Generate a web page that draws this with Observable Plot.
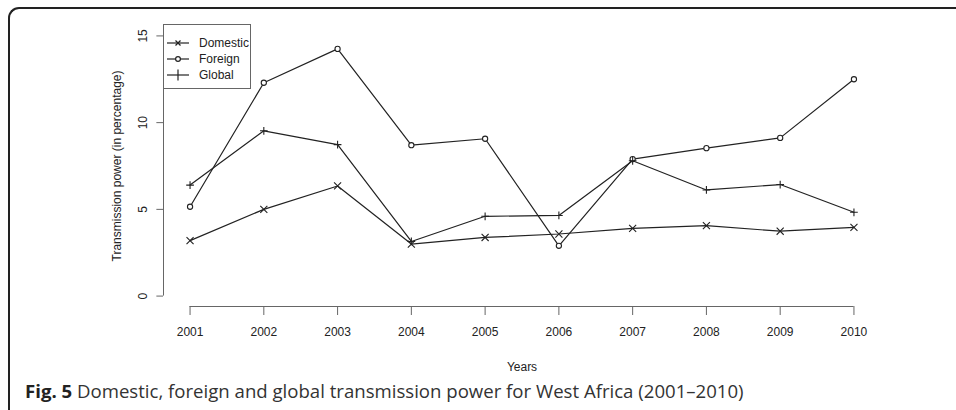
<!DOCTYPE html>
<html>
<head>
<meta charset="utf-8">
<script src="https://cdn.jsdelivr.net/npm/d3@7"></script>
<script src="https://cdn.jsdelivr.net/npm/@observablehq/plot@0.6"></script>
<style>
  html, body { margin: 0; padding: 0; background: #fff; }
  body { width: 956px; height: 410px; overflow: hidden; position: relative; font-family: "Liberation Sans", Arial, sans-serif; }
  #frame { position: absolute; left: 8px; top: 7px; width: 960px; height: 420px; border-top: 2px solid #222; border-left: 2px solid #222; border-top-left-radius: 11px; box-sizing: border-box; }
  #chart { position: absolute; left: 0; top: 0; }
  #legend { position: absolute; left: 163px; top: 24px; width: 88px; height: 65px; border: 1px solid #666; box-sizing: border-box; background: #fff; }
  .li { position: absolute; left: 2px; height: 16px; display: flex; align-items: center; font-size: 12px; color: #222; }
  .li svg { width: 24px; height: 16px; margin-right: 9px; }
  #caption { position: absolute; left: 25px; top: 378px; font-family: "Open Sans", "Noto Sans", sans-serif; font-size: 18.6px; color: #333; white-space: nowrap; }
  #caption b { color: #222; }
</style>
</head>
<body>
<div id="frame"></div>
<div id="chart"></div>
<div id="legend"></div>
<div id="caption"><b>Fig. 5</b> Domestic, foreign and global transmission power for West Africa (2001–2010)</div>
<script>
const years = [2001, 2002, 2003, 2004, 2005, 2006, 2007, 2008, 2009, 2010];
const domestic = [3.2, 5.0, 6.35, 3.0, 3.38, 3.58, 3.9, 4.06, 3.74, 3.96];
const foreign = [5.15, 12.3, 14.25, 8.7, 9.07, 2.9, 7.9, 8.53, 9.12, 12.5];
const global = [6.4, 9.53, 8.73, 3.15, 4.6, 4.65, 7.8, 6.12, 6.43, 4.83];
const seriesNames = ["Domestic", "Foreign", "Global"];
const seriesSymbols = ["times", "circle", "plus"];
const yTicks = [0, 5, 10, 15];
const xLabel = "Years";
const yLabel = "Transmission power (in percentage)";

const allSeries = [domestic, foreign, global];
const rows = allSeries.flatMap((vals, i) => years.map((yr, j) => ({year: yr, value: vals[j], series: seriesNames[i]})));

const ink = "#222";
const axisInk = "#666";
const xPad = 0.36;   // R's 4% axis extension
const xLeft = years[0] - xPad;
const tickLen = 0.09; // in years (~6.6px)
const symR = {times: 3.3, circle: 2.6, plus: 2.6};

const marks = [];
allSeries.forEach((vals, i) => {
  const data = rows.filter(d => d.series === seriesNames[i]);
  const sym = seriesSymbols[i];
  marks.push(Plot.line(data, {x: "year", y: "value", stroke: ink, strokeWidth: 1.2}));
  marks.push(Plot.dot(data, {x: "year", y: "value", symbol: () => sym, stroke: ink, fill: sym === "circle" ? "#fff" : "none", strokeWidth: 1.1, r: symR[sym]}));
});

const plot = Plot.plot({
  width: 956,
  height: 410,
  marginLeft: 163,
  marginRight: 76,
  marginTop: 25,
  marginBottom: 104,
  style: {background: "transparent", fontFamily: "'Liberation Sans', Arial, sans-serif", fontSize: "12px", color: ink},
  x: {type: "linear", domain: [years[0] - xPad, years[years.length - 1] + xPad], axis: null},
  y: {type: "linear", domain: [-0.6, 15.6], axis: null},
  marks: [
    Plot.ruleY([-0.6], {x1: years[0], x2: years[years.length - 1], stroke: axisInk}),
    Plot.axisX({ticks: years, tickFormat: d => String(d), tickSize: 9, tickPadding: 12, stroke: axisInk, fill: ink, fontSize: 12, label: null}),
    Plot.ruleX([xLeft], {y1: yTicks[0], y2: yTicks[yTicks.length - 1], stroke: axisInk}),
    Plot.ruleY(yTicks, {y: d => d, x1: xLeft - tickLen, x2: xLeft, stroke: axisInk}),
    Plot.text(yTicks, {y: d => d, frameAnchor: "left", dx: -20, rotate: -90, text: d => String(d), fill: ink, fontSize: 12, textAnchor: "middle"}),
    Plot.text([xLabel], {x: (years[0] + years[years.length - 1]) / 2, frameAnchor: "bottom", dy: 64, text: d => d, fill: ink, fontSize: 12}),
    Plot.text([yLabel], {y: 7.5, frameAnchor: "left", dx: -46, rotate: -90, text: d => d, fill: ink, fontSize: 12, textAnchor: "middle"}),
    ...marks
  ]
});
document.getElementById("chart").appendChild(plot);

// legend
const leg = document.getElementById("legend");
const symPaths = {
  times: '<line x1="9.5" y1="5.5" x2="14.5" y2="10.5"/><line x1="14.5" y1="5.5" x2="9.5" y2="10.5"/>',
  circle: '<circle cx="12" cy="8" r="2.4" fill="#fff"/>',
  plus: '<line x1="12" y1="2.5" x2="12" y2="13.5"/>'
};
seriesNames.forEach((name, i) => {
  const div = document.createElement("div");
  div.className = "li";
  div.style.top = (10 + i * 16) + "px";
  div.innerHTML = `<svg viewBox="0 0 24 16" stroke="${ink}" stroke-width="1.2" fill="none"><line x1="1" y1="8" x2="23" y2="8"/>${symPaths[seriesSymbols[i]]}</svg>${name}`;
  leg.appendChild(div);
});
</script>
</body>
</html>
